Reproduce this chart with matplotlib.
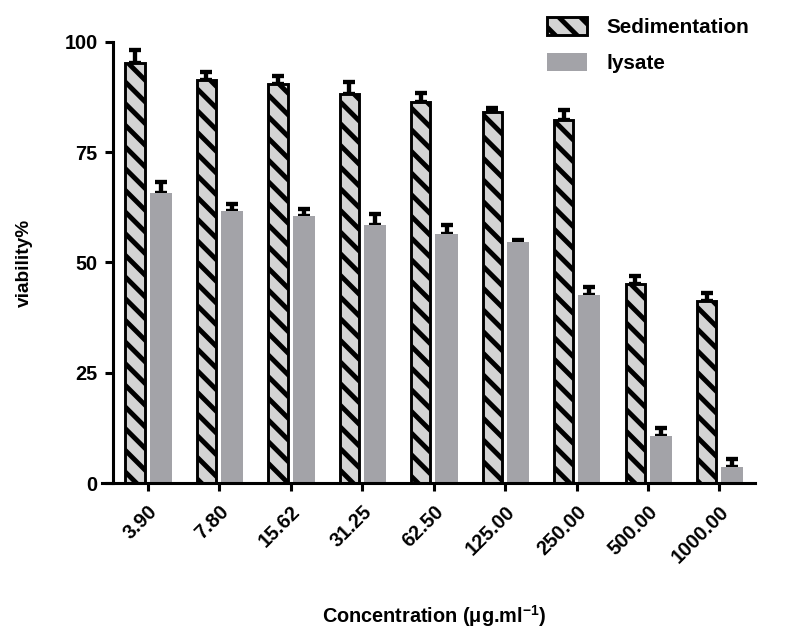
import matplotlib
matplotlib.use('Agg')
import matplotlib.pyplot as plt
import numpy as np

plt.rcParams['font.family'] = ['Liberation Sans', 'DejaVu Sans']
plt.rcParams['font.weight'] = 'bold'
plt.rcParams['axes.labelweight'] = 'bold'
plt.rcParams['mathtext.fontset'] = 'custom'
plt.rcParams['mathtext.rm'] = 'Liberation Sans:bold'
plt.rcParams['mathtext.bf'] = 'Liberation Sans:bold'
plt.rcParams['mathtext.default'] = 'bf'
plt.rcParams['hatch.linewidth'] = 2.7

# data
concentrations = ['3.90', '7.80', '15.62', '31.25', '62.50', '125.00', '250.00', '500.00', '1000.00']
sedimentation = [95.3, 91.4, 90.4, 88.2, 86.3, 84.2, 82.2, 45.2, 41.2]
sedimentation_err = [2.9, 1.7, 1.9, 2.8, 2.2, 0.9, 2.4, 1.8, 1.9]
lysate = [65.7, 61.6, 60.6, 58.6, 56.5, 54.6, 42.6, 10.6, 3.6]
lysate_err = [2.6, 1.7, 1.6, 2.5, 2.0, 0.5, 1.9, 1.9, 1.8]

dpi = 130
fig = plt.figure(figsize=(787 / dpi, 631 / dpi), dpi=dpi)
ax = fig.add_axes([0.1436, 0.2345, 0.816, 0.699])

x = np.arange(len(concentrations))
off = 0.18

ax.bar(x - off, sedimentation, 0.27, color='#d4d4d4', edgecolor='black', linewidth=1.6,
       hatch='\\\\', label='Sedimentation', zorder=2)
ax.errorbar(x - off, sedimentation, yerr=[np.zeros(len(x)), sedimentation_err], fmt='none',
            ecolor='black', elinewidth=2.4, capsize=3.5, capthick=2.4, zorder=1)

ax.bar(x + off, lysate, 0.31, color='#a3a3a8', edgecolor='none',
       label='lysate', zorder=2)
ax.errorbar(x + off, lysate, yerr=[np.zeros(len(x)), lysate_err], fmt='none',
            ecolor='black', elinewidth=2.4, capsize=3.5, capthick=2.4, zorder=1)

ax.set_xlim(-0.487, 8.5)
ax.set_ylim(0, 100)
ax.set_yticks([0, 25, 50, 75, 100])
ax.set_xticks(x)
ax.set_xticklabels(concentrations, rotation=45, ha='right', rotation_mode='anchor')

for s in ['top', 'right']:
    ax.spines[s].set_visible(False)
for s in ['left', 'bottom']:
    ax.spines[s].set_linewidth(1.7)
ax.spines['bottom'].set_bounds(-0.64, 8.5)
ax.tick_params(axis='both', direction='out', length=4.5, width=1.7, labelsize=11)
ax.tick_params(axis='y', pad=4)
ax.tick_params(axis='x', pad=6)

ax.set_ylabel('viability%', fontsize=10.5)
ax.yaxis.set_label_coords(-0.125, 0.5)
ax.set_xlabel('Concentration (μg.ml$^{-1}$)', fontsize=11)
ax.xaxis.set_label_coords(0.5, -0.272)

fig.legend(loc='upper left', bbox_to_anchor=(0.682, 0.99), frameon=False,
           fontsize=11.5, handlelength=1.9, handleheight=1.0, labelspacing=0.75,
           handletextpad=0.95, borderpad=0)

fig.savefig('out.png', dpi=dpi)
